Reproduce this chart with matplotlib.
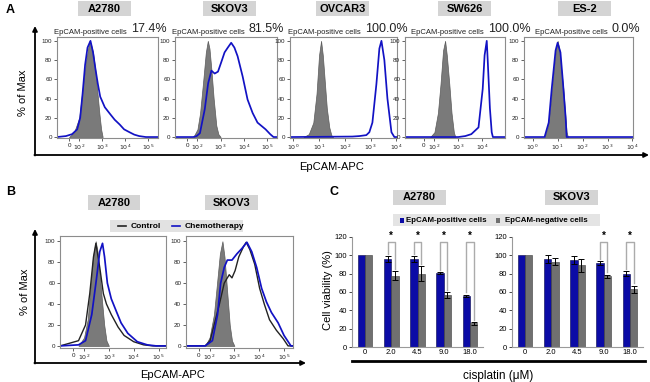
import matplotlib
matplotlib.use("Agg")
import matplotlib.pyplot as plt
from matplotlib.patches import Rectangle, FancyArrowPatch
from matplotlib.lines import Line2D
import numpy as np

plt.rcParams['font.family'] = ['Liberation Sans', 'DejaVu Sans']

# ---- panel A: EpCAM histograms (x = APC intensity, y = % of max) ----
cell_lines_a = ['A2780', 'SKOV3', 'OVCAR3', 'SW626', 'ES-2']
pct_positive = ['17.4%', '81.5%', '100.0%', '100.0%', '0.0%']

a2780_iso_x = [0, 50, 100, 140, 200, 280, 330, 400, 500, 600, 750, 900, 1050]
a2780_iso_y = [0, 5, 20, 50, 80, 100, 96, 88, 70, 50, 25, 8, 0]
a2780_ep_x = [-120, -30, 30, 80, 110, 140, 180, 230, 309, 400, 500, 650, 820,
              1300, 2200, 3500, 5800, 9000, 15500, 25000, 41000, 80000, 270000]
a2780_ep_y = [0, 1, 3, 8, 20, 45, 75, 93, 100, 88, 72, 55, 42,
              31, 24, 18, 13, 8, 5, 2.5, 1, 0, 0]

skov3_iso_x = [60, 100, 130, 180, 230, 280, 330, 400, 500, 650, 800, 1000]
skov3_iso_y = [0, 8, 25, 60, 88, 100, 92, 70, 40, 12, 3, 0]
skov3_ep_x = [-120, 60, 92, 128, 207, 290, 400, 555, 770, 1070, 1480, 2040, 2850,
              3930, 5400, 8900, 14500, 24000, 39000, 87000, 137000, 190000, 270000]
skov3_ep_y = [0, 0, 1, 4, 29, 56, 69, 66, 68, 78, 88, 93, 98,
              93, 84, 63, 39, 25, 15, 8, 3, 0, 0]

ovcar3_iso_x = [2.5, 4, 6, 8, 10, 12, 14, 17, 20, 25, 30, 35]
ovcar3_iso_y = [0, 3, 15, 45, 85, 100, 85, 55, 30, 10, 2, 0]
ovcar3_ep_x = [0.75, 195, 365, 680, 890, 1170, 1670, 2180, 2620, 3400, 4470, 6400, 8300, 10000]
ovcar3_ep_y = [0, 0.5, 1, 2, 5, 15, 55, 92, 100, 80, 40, 5, 0, 0]

sw626_iso_x = [60, 100, 140, 180, 230, 280, 330, 420, 520, 650, 750]
sw626_iso_y = [0, 5, 25, 55, 90, 100, 85, 55, 25, 5, 0]
sw626_ep_x = [-220, 1000, 1950, 3500, 7000, 10500, 12600, 15500, 17000, 21000, 25000, 28000, 90000]
sw626_ep_y = [0, 0, 1, 3, 10, 50, 85, 100, 80, 30, 5, 0, 0]

es2_iso_x = [3, 4, 5, 6, 7, 8.5, 10, 12, 14, 17, 20, 23, 26]
es2_iso_y = [0, 10, 30, 50, 70, 90, 100, 90, 70, 50, 25, 5, 0]
es2_ep_x = [0.45, 3, 4.4, 5.8, 8.3, 10, 13, 16, 21, 23, 10500]
es2_ep_y = [0, 0, 15, 50, 90, 98, 88, 60, 20, 0, 0]

# ---- panel B: control vs chemotherapy ----
b_a2780_iso_x = [50, 100, 140, 180, 230, 295, 350, 420, 520, 650, 800, 1000]
b_a2780_iso_y = [0, 8, 25, 55, 85, 100, 90, 70, 45, 20, 5, 0]
b_a2780_ctl_x = [-120, -50, 50, 115, 170, 240, 300, 430, 600, 800, 1250, 2350,
                 4100, 10000, 25000, 60000, 200000]
b_a2780_ctl_y = [0, 2, 5, 20, 50, 85, 98, 75, 50, 40, 30, 18, 10, 4, 1, 0, 0]
b_a2780_chemo_x = [-120, 50, 115, 205, 320, 430, 555, 670, 870, 1250, 2000, 3100,
                   5800, 14000, 35000, 80000, 200000]
b_a2780_chemo_y = [0, 1, 5, 30, 65, 90, 98, 85, 60, 45, 33, 22, 12, 4, 1, 0, 0]

b_skov3_iso_x = [60, 100, 150, 200, 260, 330, 400, 500, 650, 800, 1000]
b_skov3_iso_y = [0, 8, 30, 60, 88, 100, 85, 55, 20, 5, 0]
b_skov3_ctl_x = [-115, 60, 105, 250, 390, 620, 800, 1070, 1500, 2350, 3000, 4200,
                 6600, 10400, 16000, 26000, 49000, 92000, 145000, 230000]
b_skov3_ctl_y = [0, 0, 5, 40, 60, 68, 65, 72, 85, 95, 99, 92, 78, 55, 40, 25, 15, 7, 0, 0]
b_skov3_chemo_x = [-115, 60, 130, 210, 280, 390, 520, 800, 1270, 2000, 3200, 5000,
                   7900, 12500, 19600, 31000, 58000, 100000, 190000, 230000]
b_skov3_chemo_y = [0, 0, 5, 30, 60, 75, 82, 82, 88, 93, 99, 90, 75, 55, 42, 32, 22, 10, 0, 0]

# ---- panel C: viability after cisplatin ----
doses = ['0', '2.0', '4.5', '9.0', '18.0']
c_a2780_pos = [100, 96, 96, 81, 56]
c_a2780_pos_err = [0, 3, 3, 1, 1]
c_a2780_neg = [100, 78, 80, 57, 26]
c_a2780_neg_err = [0, 5, 8, 3, 1.5]
c_a2780_sig = [False, True, True, True, True]
c_skov3_pos = [100, 96, 95, 92, 80]
c_skov3_pos_err = [0, 4, 4, 2, 2.5]
c_skov3_neg = [100, 93, 89, 77, 63]
c_skov3_neg_err = [0, 4, 7, 2, 4]
c_skov3_sig = [False, False, False, True, True]

W, H = 650, 382
BLUE = '#0b0ba6'
LBLUE = '#1212c4'
HISTGRAY = '#7a7a7a'
BARGRAY = '#707070'
BOXGRAY = '#d4d4d4'

fig = plt.figure(figsize=(6.5, 3.82), dpi=100)


def rect(l, t, r, b):
    return [l / W, 1 - b / H, (r - l) / W, (b - t) / H]


def ftext(x, y, s, **kw):
    return fig.text(x / W, 1 - y / H, s, **kw)


def name_box(l, t, r, b, s):
    fig.add_artist(Rectangle((l / W, 1 - b / H), (r - l) / W, (b - t) / H,
                             transform=fig.transFigure, color=BOXGRAY, lw=0))
    ftext((l + r) / 2, (t + b) / 2, s, ha='center', va='center',
          fontsize=8, fontweight='bold')


def arrow(p0, p1):
    fig.add_artist(FancyArrowPatch((p0[0] / W, 1 - p0[1] / H), (p1[0] / W, 1 - p1[1] / H),
                                   transform=fig.transFigure, arrowstyle='-|>',
                                   mutation_scale=7, lw=1.3, color='black',
                                   shrinkA=0, shrinkB=0))


def hist_axes(r, scale, xlim, ylim):
    ax = fig.add_axes(r)
    if scale == 'symlog':
        ax.set_xscale('symlog', linthresh=100, linscale=0.4)
        ax.set_xticks([0, 1e2, 1e3, 1e4, 1e5],
                      ['0', '$10^2$', '$10^3$', '$10^4$', '$10^5$'])
    else:
        ax.set_xscale('log')
        ax.set_xticks([1, 10, 1e2, 1e3, 1e4],
                      ['$10^0$', '$10^1$', '$10^2$', '$10^3$', '$10^4$'])
    ax.xaxis.set_minor_locator(matplotlib.ticker.NullLocator())
    ax.set_xlim(*xlim)
    ax.set_ylim(*ylim)
    ax.set_yticks([0, 20, 40, 60, 80, 100])
    ax.tick_params(labelsize=4.5, length=2, width=0.5, pad=1.5, colors='#222222')
    for s in ax.spines.values():
        s.set_color('#8c8c8c')
        s.set_linewidth(0.8)
    return ax


def iso(ax, x, y):
    ax.fill_between(x, y, 0, facecolor=HISTGRAY, edgecolor='#5c5c5c', lw=0.5)


# ---------------- panel A ----------------
ftext(6, 10, 'A', fontsize=9, fontweight='bold', va='center')
a_frames = [(57, 158), (175, 277), (290, 397), (405, 505), (524, 633)]
a_boxes = [(78, 131), (203, 256), (316, 369), (438, 491), (558, 611)]
a_label_x = [54, 172, 288, 411, 535]
a_scales = ['symlog', 'symlog', 'log', 'symlog', 'log']
a_xlims = [(-120, 2.7e5), (-120, 2.7e5), (0.75, 1.05e4), (-220, 9e4), (0.45, 1.05e4)]
a_iso = [(a2780_iso_x, a2780_iso_y), (skov3_iso_x, skov3_iso_y), (ovcar3_iso_x, ovcar3_iso_y),
         (sw626_iso_x, sw626_iso_y), (es2_iso_x, es2_iso_y)]
a_ep = [(a2780_ep_x, a2780_ep_y), (skov3_ep_x, skov3_ep_y), (ovcar3_ep_x, ovcar3_ep_y),
        (sw626_ep_x, sw626_ep_y), (es2_ep_x, es2_ep_y)]

for i, name in enumerate(cell_lines_a):
    l, r = a_frames[i]
    ax = hist_axes(rect(l, 37, r, 138), a_scales[i], a_xlims[i], (-1, 104))
    iso(ax, *a_iso[i])
    ax.plot(*a_ep[i], color=LBLUE, lw=1.25)
    name_box(a_boxes[i][0], 1, a_boxes[i][1], 16, name)
    lab = ftext(a_label_x[i], 33.5, 'EpCAM-positive cells', fontsize=5.5,
                va='baseline', color='#222222')
    fig.add_artist(matplotlib.text.Annotation(
        pct_positive[i], xy=(1, 0), xycoords=lab, xytext=(3, 0),
        textcoords='offset points', fontsize=9, va='bottom', color='#222222'))

arrow((35, 155.5), (35, 26))
arrow((34.4, 155), (649, 155))
ftext(23, 93, '% of Max', rotation=90, ha='center', va='center', fontsize=8)
ftext(332, 167, 'EpCAM-APC', ha='center', va='center', fontsize=8)

# ---------------- panel B ----------------
ftext(6, 192, 'B', fontsize=9, fontweight='bold', va='center')
name_box(88, 195, 140, 210, 'A2780')
name_box(205, 195, 258, 210, 'SKOV3')

axb1 = hist_axes(rect(60, 236, 166, 348), 'symlog', (-120, 2e5), (-2, 105))
iso(axb1, b_a2780_iso_x, b_a2780_iso_y)
axb1.plot(b_a2780_ctl_x, b_a2780_ctl_y, color='#222222', lw=1.0)
axb1.plot(b_a2780_chemo_x, b_a2780_chemo_y, color=LBLUE, lw=1.25)

axb2 = hist_axes(rect(186, 236, 293, 348), 'symlog', (-115, 2.3e5), (-2, 105))
iso(axb2, b_skov3_iso_x, b_skov3_iso_y)
axb2.plot(b_skov3_ctl_x, b_skov3_ctl_y, color='#222222', lw=1.0)
axb2.plot(b_skov3_chemo_x, b_skov3_chemo_y, color=LBLUE, lw=1.25)

# legend strip
fig.add_artist(Rectangle((110 / W, 1 - 232 / H), 133 / W, 12 / H,
                         transform=fig.transFigure, color='#e2e2e2', lw=0))
fig.add_artist(Line2D([118 / W, 126 / W], [1 - 226 / H] * 2, color='#222222', lw=1.2))
ftext(131, 226, 'Control', fontsize=6, fontweight='bold', va='center')
fig.add_artist(Line2D([172 / W, 180 / W], [1 - 226 / H] * 2, color=LBLUE, lw=1.2))
ftext(185, 226, 'Chemotherapy', fontsize=6, fontweight='bold', va='center')

arrow((35, 363.5), (35, 229))
arrow((34.4, 363), (306, 363))
ftext(25, 292, '% of Max', rotation=90, ha='center', va='center', fontsize=8)
ftext(173, 375, 'EpCAM-APC', ha='center', va='center', fontsize=8)

# ---------------- panel C ----------------
ftext(329, 192, 'C', fontsize=9, fontweight='bold', va='center')
name_box(393, 190, 446, 205, 'A2780')
name_box(545, 190, 598, 205, 'SKOV3')

fig.add_artist(Rectangle((393 / W, 1 - 226 / H), 207 / W, 12 / H,
                         transform=fig.transFigure, color='#e4e4e4', lw=0))
fig.add_artist(Rectangle((400 / W, 1 - 222.5 / H), 4 / W, 5 / H,
                         transform=fig.transFigure, color=BLUE, lw=0))
ftext(406, 220, 'EpCAM-positive cells', fontsize=5.7, fontweight='bold', va='center')
fig.add_artist(Rectangle((496 / W, 1 - 222.5 / H), 4 / W, 5 / H,
                         transform=fig.transFigure, color=BARGRAY, lw=0))
ftext(505, 220, 'EpCAM-negative cells', fontsize=5.7, fontweight='bold', va='center')


def bar_axes(r, pos, pos_err, neg, neg_err, sig):
    ax = fig.add_axes(r)
    x = np.arange(len(doses))
    ax.bar(x - 0.14, pos, 0.28, color=BLUE, edgecolor='#05054a', lw=0.4)
    ax.bar(x + 0.14, neg, 0.28, color=BARGRAY, edgecolor='#3c3c3c', lw=0.4)
    for i in range(len(doses)):
        if pos_err[i] > 0:
            ax.errorbar(x[i] - 0.14, pos[i], yerr=pos_err[i], color='black',
                        lw=0.7, capsize=2, capthick=0.7)
        if neg_err[i] > 0:
            ax.errorbar(x[i] + 0.14, neg[i], yerr=neg_err[i], color='black',
                        lw=0.7, capsize=2, capthick=0.7)
        if sig[i]:
            xl, xr = x[i] - 0.14, x[i] + 0.14
            yl = pos[i] + pos_err[i] + 2.5
            yr = neg[i] + neg_err[i] + 2.5
            ax.plot([xl, xl, xr, xr], [yl, 114.5, 114.5, yr], color='#ababab',
                    lw=1.0, clip_on=False)
            ax.text(x[i], 121.5, '*', ha='center', va='center', fontsize=7,
                    fontweight='bold', clip_on=False)
    ax.set_xlim(-0.5, len(doses) - 0.5)
    ax.set_ylim(0, 120)
    ax.set_yticks(range(0, 121, 20))
    ax.set_xticks(x, doses)
    ax.tick_params(axis='y', labelsize=5.5, length=2, width=0.5, pad=1.5)
    ax.tick_params(axis='x', labelsize=5.5, length=0, pad=1.5)
    for s in ['top', 'right']:
        ax.spines[s].set_visible(False)
    for s in ['left', 'bottom']:
        ax.spines[s].set_color('#9a9a9a')
        ax.spines[s].set_linewidth(0.8)
    return ax


bar_axes(rect(352, 237, 483, 347), c_a2780_pos, c_a2780_pos_err,
         c_a2780_neg, c_a2780_neg_err, c_a2780_sig)
bar_axes(rect(512, 237, 643, 347), c_skov3_pos, c_skov3_pos_err,
         c_skov3_neg, c_skov3_neg_err, c_skov3_sig)

fig.add_artist(Line2D([352 / W, 645 / W], [1 - 361 / H] * 2, color='black', lw=2))
ftext(328, 290, 'Cell viability (%)', rotation=90, ha='center', va='center', fontsize=8)
ftext(498, 376, 'cisplatin (\u03bcM)', ha='center', va='center', fontsize=8.5)

fig.savefig('out.png', dpi=100)
